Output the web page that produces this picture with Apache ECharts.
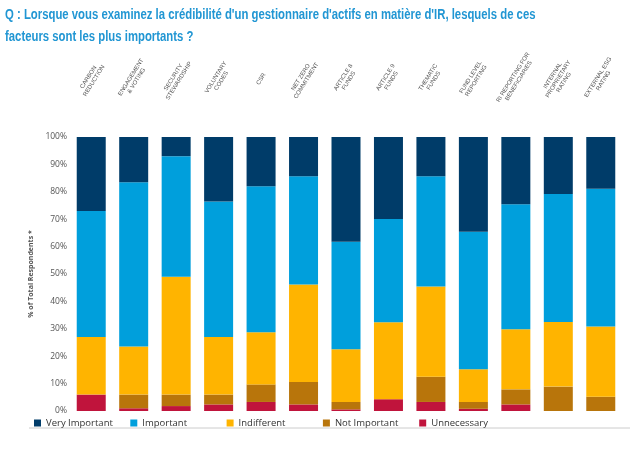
<!DOCTYPE html>
<html>
<head>
<meta charset="utf-8">
<script src="https://cdn.jsdelivr.net/npm/echarts@6/dist/echarts.min.js"></script>
<style>
  html, body { margin: 0; padding: 0; background: #fff; }
  #chart { width: 640px; height: 450px; }
</style>
</head>
<body>
<div id="chart"></div>
<script>
// facteurs (libellés en haut du graphique)
var categories = [
  'CARBON\nREDUCTION', 'ENGAGEMENT\n& VOTING', 'SECURITY\nSTEWARDSHIP', 'VOLUNTARY\nCODES',
  'CSR', 'NET ZERO\nCOMMITMENT', 'ARTICLE 8\nFUNDS', 'ARTICLE 9\nFUNDS', 'THEMATIC\nFUNDS',
  'FUND LEVEL\nREPORTING', 'RI REPORTING FOR\nBENEFICIARIES', 'INTERNAL\nPROPRIETARY\nRATING',
  'EXTERNAL ESG\nRATING'
];

// % of respondents, stacked from bottom
var unnecessary   = [6, 1, 1.8, 2.4, 3.3, 2.4, 0.6, 4.3, 3.3, 0.8, 2.4, 0, 0];
var notImportant  = [0, 5, 4.2, 3.6, 6.4, 8.2, 2.7, 0, 9.2, 2.5, 5.5, 8.9, 5.2];
var indifferent   = [21, 17.5, 43, 21, 19, 35.6, 19.2, 28.1, 32.9, 11.9, 21.9, 23.6, 25.6];
var important     = [46, 60, 44, 49.5, 53.3, 39.5, 39.3, 37.7, 40.3, 50.2, 45.7, 46.7, 50.3];
var veryImportant = [27, 16.5, 7, 23.5, 18, 14.3, 38.2, 29.9, 14.3, 34.6, 24.5, 20.8, 18.9];

var legendNames = ['Very Important', 'Important', 'Indifferent', 'Not Important', 'Unnecessary'];

var titleText = "Q : Lorsque vous examinez la crédibilité d'un gestionnaire d'actifs en matière d'IR, lesquels de ces\nfacteurs sont les plus importants ?";

var chart = echarts.init(document.getElementById('chart'));

function bar(name, data, color) {
  return {
    name: name,
    type: 'bar',
    stack: 'total',
    barWidth: 29,
    xAxisIndex: 0,
    itemStyle: { color: color },
    data: data
  };
}

// one legend per entry so the entries sit on an even spacing
var legends = legendNames.map(function (n, i) {
  return {
    data: [n],
    left: 29 + i * 96.3,
    top: 413,
    icon: 'rect',
    itemWidth: 7,
    itemHeight: 7,
    textStyle: {
      fontFamily: '"Open Sans", sans-serif',
      fontSize: 9.5,
      color: '#333'
    }
  };
});

chart.setOption({
  animation: false,
  legend: legends,
  grid: { left: 70, right: 18, top: 137, bottom: 39 },
  xAxis: [
    {
      type: 'category',
      data: categories,
      axisLine: { show: false },
      axisTick: { show: false },
      axisLabel: { show: false }
    },
    {
      type: 'category',
      position: 'top',
      data: categories,
      axisLine: { show: false },
      axisTick: { show: false },
      axisLabel: {
        interval: 0,
        rotate: -58,
        align: 'center',
        verticalAlign: 'middle',
        margin: 58,
        fontSize: 6,
        lineHeight: 6.5,
        color: '#555',
        fontFamily: '"Liberation Sans", sans-serif'
      }
    }
  ],
  yAxis: {
    type: 'value',
    min: 0,
    max: 100,
    interval: 10,
    name: '% of Total Respondents *',
    nameLocation: 'middle',
    nameGap: 31,
    nameTextStyle: {
      fontSize: 7,
      fontWeight: 'bold',
      color: '#555',
      fontFamily: '"Open Sans", sans-serif'
    },
    axisLine: { show: false },
    axisTick: { show: false },
    splitLine: { show: false },
    axisLabel: {
      formatter: '{value}%',
      margin: 3,
      fontSize: 8.5,
      color: '#555',
      fontFamily: '"Open Sans", sans-serif'
    }
  },
  graphic: [
    {
      type: 'text',
      left: 5,
      top: 4,
      scaleX: 0.81,
      style: {
        text: titleText,
        font: 'bold 14px "Liberation Sans", sans-serif',
        lineHeight: 22,
        fill: '#2196d3'
      }
    },
    { type: 'line', shape: { x1: 29, y1: 428, x2: 630, y2: 428 }, style: { stroke: '#ccc', lineWidth: 1 } }
  ],
  series: [
    bar('Unnecessary', unnecessary, '#c0143c'),
    bar('Not Important', notImportant, '#b8750b'),
    bar('Indifferent', indifferent, '#ffb400'),
    bar('Important', important, '#009fdc'),
    bar('Very Important', veryImportant, '#003c69')
  ]
});
</script>
</body>
</html>
